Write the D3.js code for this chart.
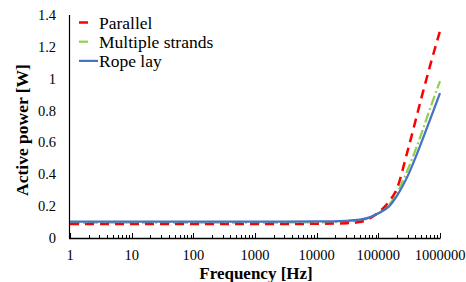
<!DOCTYPE html>
<html><head><meta charset="utf-8">
<script src="https://cdn.jsdelivr.net/npm/d3@7"></script>
<style>body{margin:0;background:#fff}svg{display:block}</style>
</head><body>
<svg id="c" width="466" height="282"></svg>
<script>
const freq = [1,10,100,1000,10000,30000,50000,70000,100000,150000,200000,300000,500000,700000,1000000];
const parallel = [0.088,0.088,0.088,0.088,0.089,0.093,0.1,0.12,0.16,0.23,0.31,0.55,0.88,1.09,1.3];
const multiple = [0.097,0.097,0.097,0.097,0.098,0.103,0.11,0.125,0.155,0.21,0.28,0.43,0.655,0.82,0.985];
const rope = [0.103,0.103,0.103,0.103,0.104,0.108,0.115,0.128,0.155,0.2,0.265,0.39,0.6,0.75,0.91];
const seriesNames = ["Parallel","Multiple strands","Rope lay"];
const xTicks = [1,10,100,1000,10000,100000,1000000];
const yTicks = [0,0.2,0.4,0.6,0.8,1,1.2,1.4];

const FONT = "Liberation Serif, serif";
const svg = d3.select("#c");
const L=70,R=440,T=15,B=238;
const x = d3.scaleLog().domain([1,1e6]).range([L,R]);
const y = d3.scaleLinear().domain([0,1.4]).range([B,T]);
function txt(){ return svg.append("text").attr("font-family",FONT).style("font-family",FONT,"important"); }

svg.append("line").attr("x1",L-0.5).attr("x2",L-0.5).attr("y1",T).attr("y2",B).attr("stroke","#000").attr("stroke-width",1.2);
yTicks.forEach(d=>{
  txt().attr("x",L-14).attr("y",y(d)+5).attr("text-anchor","end").attr("font-size",14.5).text(d3.format("~g")(d));
});

svg.append("line").attr("x1",L-1).attr("x2",R+0.5).attr("y1",B+0.5).attr("y2",B+0.5).attr("stroke","#000").attr("stroke-width",1.5);
const minor=[];
for(let e=0;e<6;e++) for(let k=2;k<=9;k++) minor.push(k*Math.pow(10,e));
svg.selectAll(".mt").data(minor).enter().append("line")
  .attr("x1",d=>Math.round(x(d))+0.5).attr("x2",d=>Math.round(x(d))+0.5)
  .attr("y1",B-3).attr("y2",B).attr("stroke","#000").attr("stroke-width",1);
svg.selectAll(".Mt").data(xTicks).enter().append("line")
  .attr("x1",d=>Math.round(x(d))+0.5).attr("x2",d=>Math.round(x(d))+0.5)
  .attr("y1",B-5).attr("y2",B).attr("stroke","#000").attr("stroke-width",1);
xTicks.forEach(d=>{
  txt().attr("x",x(d)).attr("y",B+22).attr("text-anchor","middle").attr("font-size",14.5).text(String(d));
});

txt().attr("x",256).attr("y",278.5).attr("text-anchor","middle")
  .attr("font-size",17).attr("font-weight","bold").text("Frequency [Hz]");
txt().attr("transform","translate(28,130) rotate(-90)")
  .attr("text-anchor","middle").attr("font-size",17.5).attr("font-weight","bold").text("Active power [W]");

const line = d3.line().x((d,i)=>x(freq[i])).y(d=>y(d)).curve(d3.curveMonotoneX);
const styles = [
  {data:parallel,color:"#FF0000",dash:"9,6",w:2.5},
  {data:multiple,color:"#92D050",dash:"10,3,2,3",w:2.25},
  {data:rope,color:"#4472C4",dash:null,w:2.25}
];
[styles[1],styles[0],styles[2]].forEach(s=>{
  svg.append("path").attr("d",line(s.data)).attr("fill","none").attr("stroke",s.color)
    .attr("stroke-width",s.w).attr("stroke-dasharray",s.dash);
});

styles.forEach((s,i)=>{
  const ly = 22.5 + i*19.2;
  svg.append("line").attr("x1",79).attr("x2",s.dash?88:98).attr("y1",ly).attr("y2",ly)
    .attr("stroke",s.color).attr("stroke-width",s.w);
  txt().attr("x",99).attr("y",ly+6.3).attr("font-size",17.5).text(seriesNames[i]);
});
</script>
</body></html>
